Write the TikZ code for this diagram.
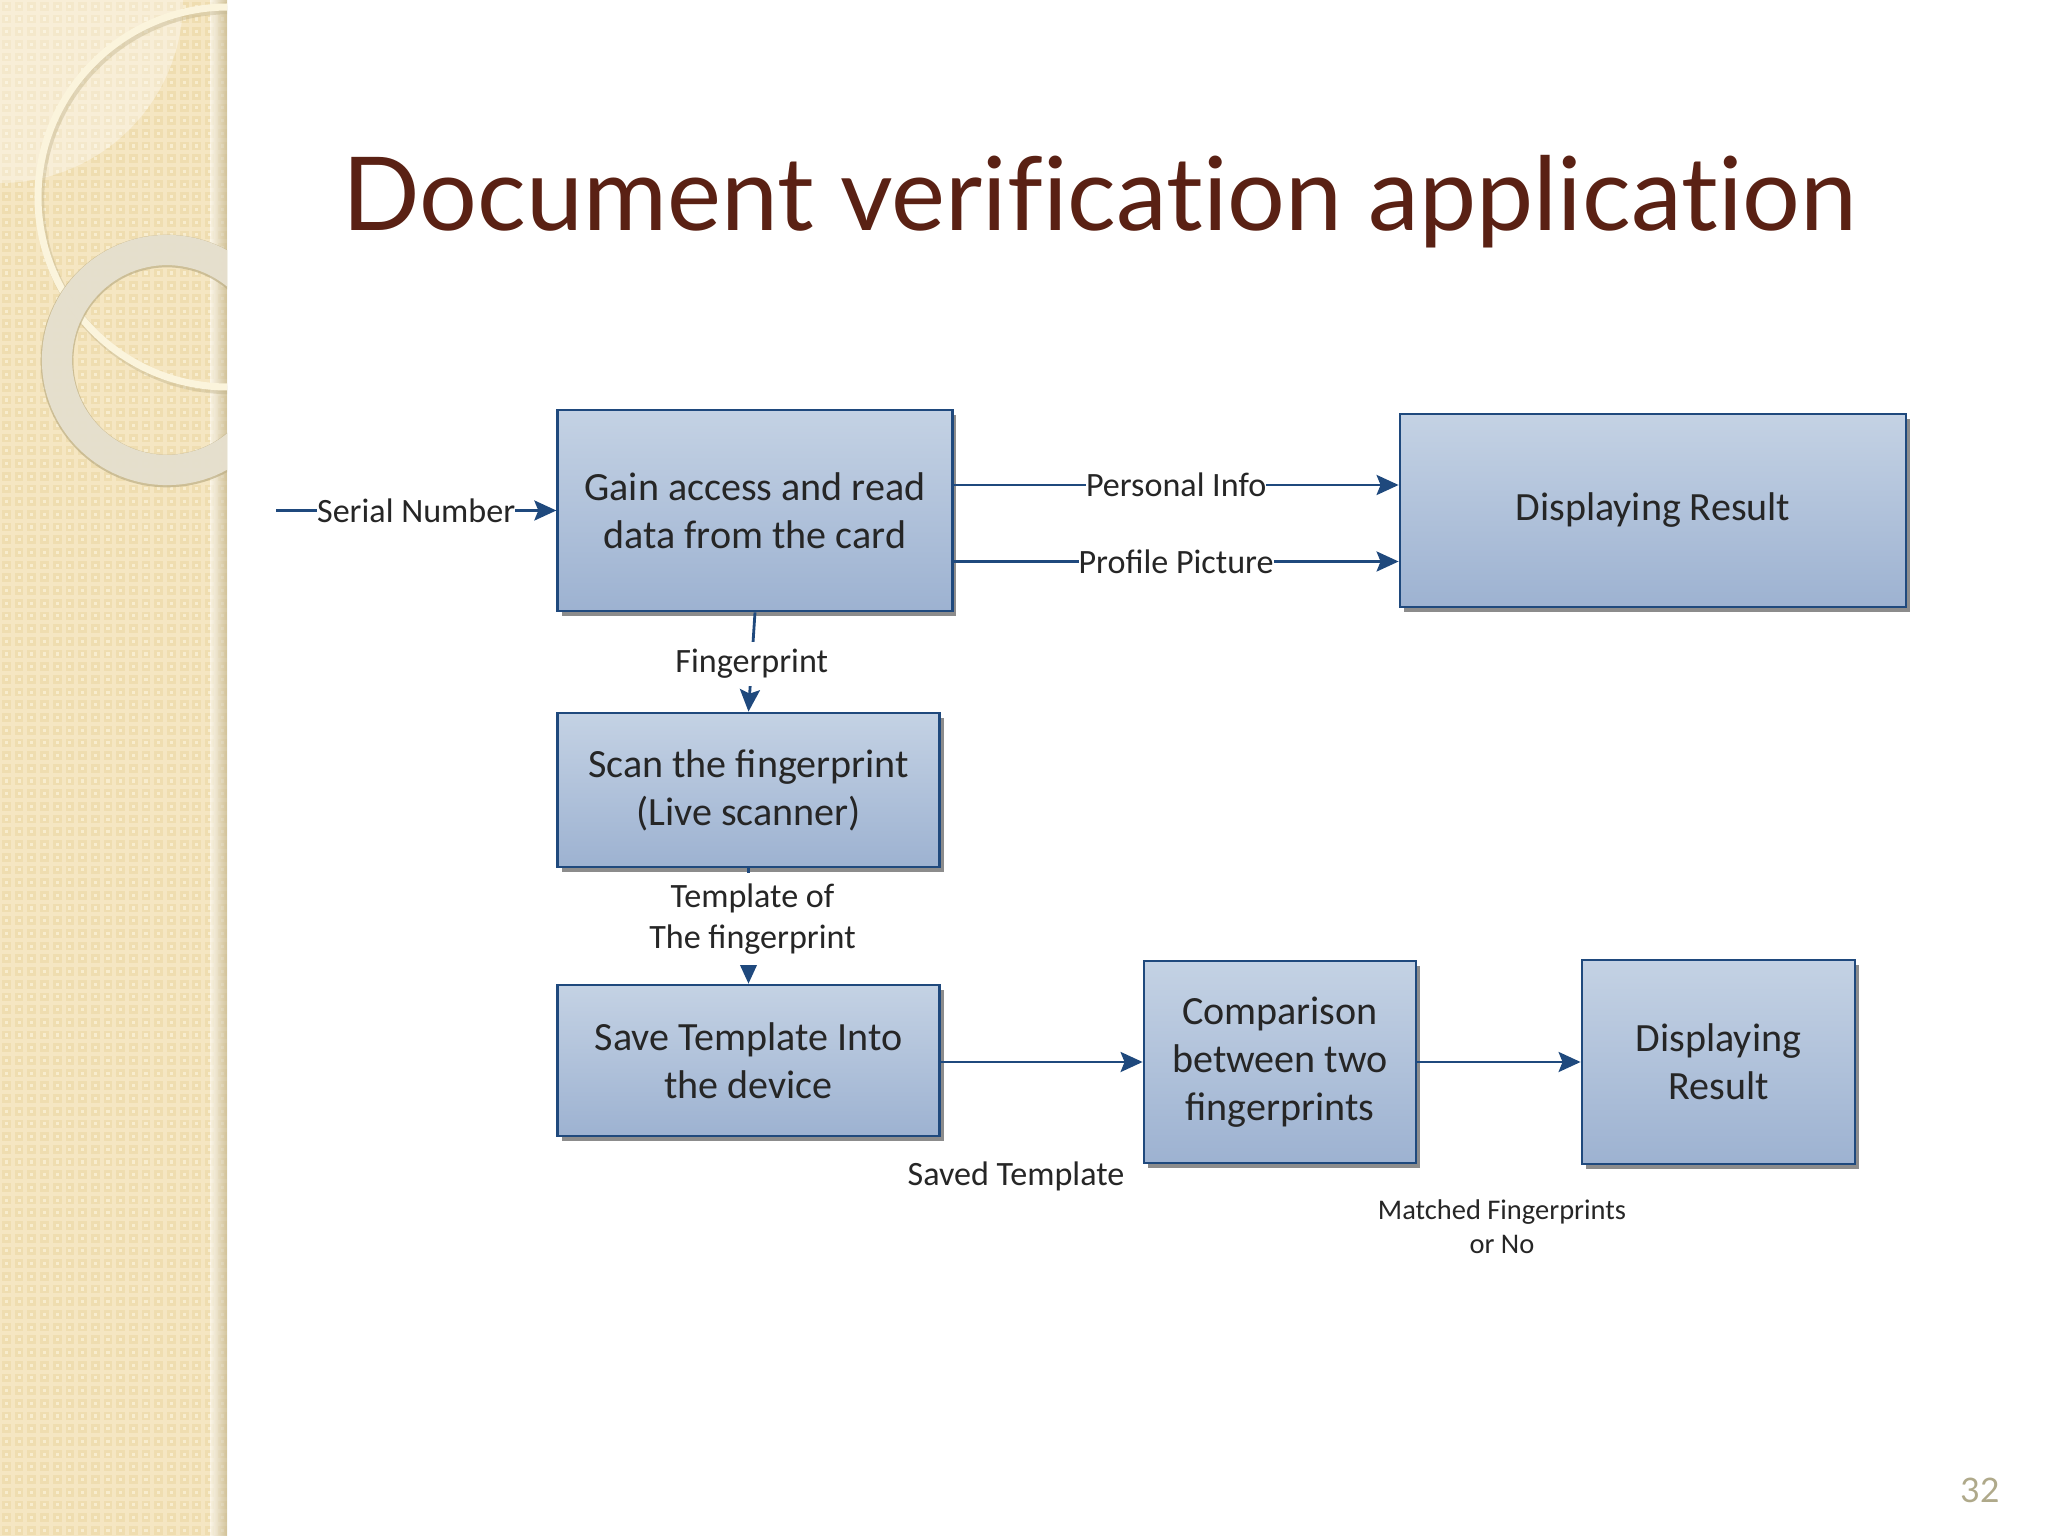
\documentclass[tikz,border=0pt]{standalone}
\usepackage{fontspec}
\setmainfont{Carlito}
\newfontfamily\titlefont[Ligatures=NoCommon]{Lato}
\usetikzlibrary{positioning, calc, shadows, arrows.meta}

\definecolor{sidetan}{HTML}{F5E6C2}
\definecolor{sidelight}{HTML}{F8EDCF}
\definecolor{sidedark}{HTML}{EFDDB0}
\definecolor{ringgrey}{HTML}{E7E1D0}
\definecolor{ringcream}{HTML}{FBF4DC}
\definecolor{ringedge}{HTML}{BDAF86}
\definecolor{titlebrown}{HTML}{5A2114}
\definecolor{boxline}{HTML}{1F497D}
\definecolor{boxtop}{HTML}{C4D2E4}
\definecolor{boxbottom}{HTML}{9DB2D1}
\definecolor{pagetan}{HTML}{AFA98A}

\tikzset{
    blockbox/.style={draw=boxline, line width=0.8pt, top color=boxtop, bottom color=boxbottom,
        font=\fontsize{11.4}{13.7}\selectfont, text=black!85, align=center, inner sep=0pt,
        drop shadow={shadow xshift=0.04cm, shadow yshift=-0.05cm, fill=black!45, opacity=1}},
    flowline/.style={draw=boxline, line width=0.8pt, -{Stealth[length=0.22cm, width=0.2cm, inset=0.04cm]}},
    flowtext/.style={font=\fontsize{9.7}{11.9}\selectfont, text=black!85, align=center, inner sep=0pt},
}

\begin{document}
\begin{tikzpicture}[y=-1cm]
    \useasboundingbox (0,0) rectangle (20.48,15.36);
    \fill[white] (0,0) rectangle (20.48,15.36);

    % side band
    \begin{scope}
        \clip (0,0) rectangle (2.27,15.36);
        \fill[sidetan] (0,0) rectangle (2.27,15.36);
        \foreach \i in {0,...,18} {
            \foreach \j in {0,...,121} {
                \fill[sidedark] (\i*0.127+0.02,\j*0.127+0.02) rectangle +(0.087,0.087);
                \fill[sidelight] (\i*0.127+0.048,\j*0.127+0.048) rectangle +(0.031,0.031);
            }
        }
        \shade[left color=sidetan!0, right color=ringedge, opacity=0.6] (2.1,0) rectangle (2.27,15.36);
        \fill[white, opacity=0.35] (0,0) -- (1.83,0) arc[start angle=0, end angle=90, radius=1.83] -- cycle;
        \draw[ringedge, line width=2.4pt, opacity=0.4] (2.3,2.0) circle[radius=1.9];
        \draw[ringcream, line width=2pt] (2.28,1.97) circle[radius=1.9];
        \draw[ringedge, line width=9.3pt, opacity=0.7] (1.67,3.61) circle[radius=1.1];
        \draw[ringgrey, line width=8.6pt, opacity=0.95] (1.67,3.6) circle[radius=1.1];
    \end{scope}

    \node[font=\titlefont\fontsize{29.05}{34}\selectfont, text=titlebrown, anchor=base west, inner sep=0pt] (title) at (3.42,2.31) {Document verification application};
    \node[font=\titlefont\fontsize{9.6}{11}\selectfont, text=pagetan, inner sep=0pt] (pagenum) at (19.8,14.9) {32};

    \node[blockbox, minimum width=3.945cm, minimum height=2.01cm] (gain) at (7.55,5.105) {Gain access and read\\data from the card};
    \node[blockbox, minimum width=5.06cm, minimum height=1.93cm] (result) at (16.53,5.105) {Displaying Result};
    \node[blockbox, minimum width=3.82cm, minimum height=1.54cm] (scan) at (7.485,7.9) {Scan the fingerprint\\(Live scanner)};
    \node[blockbox, minimum width=3.82cm, minimum height=1.51cm] (save) at (7.485,10.605) {Save Template Into\\the device};
    \node[blockbox, minimum width=2.72cm, minimum height=2.02cm] (compare) at (12.8,10.62) {Comparison\\between two\\fingerprints};
    \node[blockbox, minimum width=2.73cm, minimum height=2.04cm] (show) at (17.185,10.62) {Displaying\\Result};

    \coordinate (serialin) at (2.76,5.105);
    \draw[flowline] (serialin) -- node[flowtext, fill=white, pos=0.5] (seriallabel) {Serial Number} (gain.west);
    \draw[flowline] ([yshift=0.255cm]gain.east) -- node[flowtext, fill=white, pos=0.5] (infolabel) {Personal Info} ([yshift=0.255cm]result.west);
    \draw[flowline] ([yshift=-0.51cm]gain.east) -- node[flowtext, fill=white, pos=0.5] (picturelabel) {Profile Picture} ([yshift=-0.51cm]result.west);
    \draw[flowline] (gain.south) -- node[flowtext, fill=white, pos=0.5, inner sep=2pt, yshift=-0.02cm] (fingerlabel) {Fingerprint} (scan.north);
    \draw[flowline] (scan.south) -- node[flowtext, fill=white, pos=0.44, inner sep=3pt, xshift=0.04cm] (templatelabel) {Template of\\The fingerprint} (save.north);
    \draw[flowline] (compare.west -| save.east) -- (compare.west);
    \draw[flowline] (compare.east) -- (compare.east -| show.west);

    \node[flowtext] (savedlabel) at (10.16,11.76) {Saved Template};
    \node[flowtext, font=\fontsize{8.1}{9.7}\selectfont, anchor=north] (matchedlabel) at (15.02,11.99) {Matched Fingerprints\\or No};
\end{tikzpicture}
\end{document}
